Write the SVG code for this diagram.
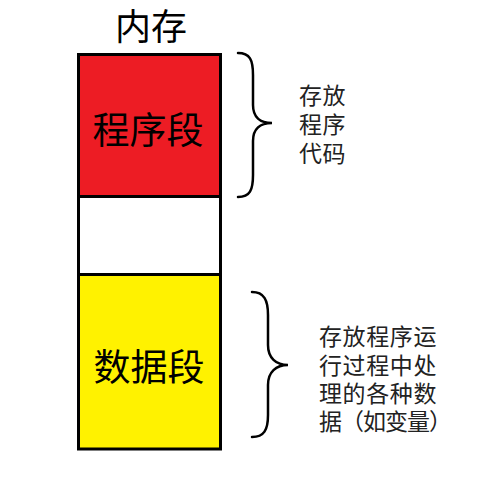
<svg xmlns="http://www.w3.org/2000/svg" width="477" height="490" viewBox="0 0 477 490">
<style>
.seg{stroke:#000;stroke-width:3}
.big{font-family:"Liberation Sans","Noto Sans CJK SC",sans-serif;font-size:37px;fill:#000;text-anchor:middle}
.note{font-family:"Liberation Sans","Noto Sans CJK SC",sans-serif;font-size:23px;fill:#222;letter-spacing:0.6px}
.brace{fill:none;stroke:#000;stroke-width:2.5;stroke-linecap:round}
</style>
<rect width="477" height="490" fill="#fff"/>
<g id="title"><text class="big" x="151" y="39.5" style="font-size:36px">内存</text></g>
<g id="code-seg">
<rect class="seg" x="78.5" y="54.5" width="142" height="142" fill="#ED1C24"/>
<text class="big" x="148" y="144">程序段</text>
</g>
<g id="free-seg">
<rect class="seg" x="78.5" y="196.5" width="142" height="78" fill="#fff"/>
</g>
<g id="data-seg">
<rect class="seg" x="78.5" y="274.5" width="142" height="174.5" fill="#FFF200"/>
<text class="big" x="149" y="381">数据段</text>
</g>
<g id="connectors">
<path class="brace" d="M238,53 C250,53 253,60 253,75 L253,105 C253,117 260,123 272,123 C260,123 253,129 253,141 L253,175 C253,190 250,197 238,197"/>
<path class="brace" d="M252,292 C264,292 268,300 268,315 L268,345 C268,358 276,365 288,365 C276,365 268,372 268,385 L268,415 C268,430 264,437 252,437"/>
</g>
<g id="note-code">
<text class="note"><tspan x="299" y="104">存放</tspan><tspan x="299" y="133">程序</tspan><tspan x="299" y="161.5">代码</tspan></text>
</g>
<g id="note-data">
<text class="note"><tspan x="319" y="345">存放程序运</tspan><tspan x="319" y="373.5">行过程中处</tspan><tspan x="319" y="401.5">理的各种数</tspan><tspan x="319" y="430" style="letter-spacing:-1px">据（如变量）</tspan></text>
</g>
</svg>
